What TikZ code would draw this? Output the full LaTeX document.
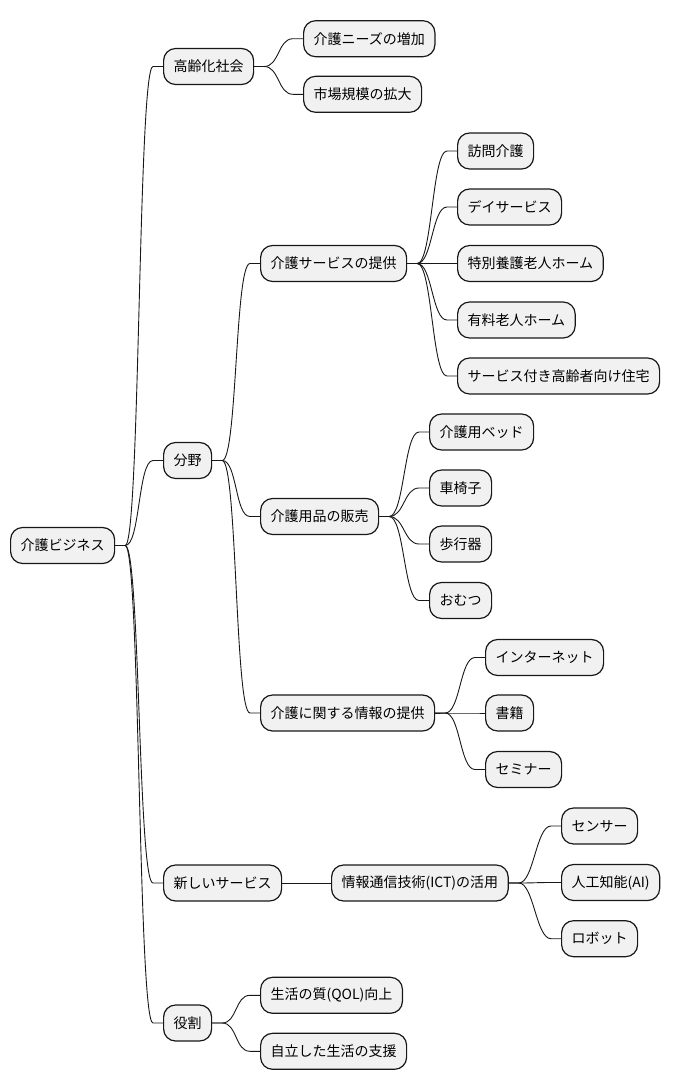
\documentclass[tikz,border=0pt]{standalone}
\usepackage{fontspec}
\setmainfont{Noto Sans CJK JP}
\usepackage{tikz}
\usetikzlibrary{positioning}
\definecolor{boxfill}{HTML}{F1F1F1}
\definecolor{boxline}{HTML}{181818}

\begin{document}
\begin{tikzpicture}[
    x=1pt, y=-1pt,
    box/.style={rectangle, rounded corners=12pt, draw=boxline, fill=boxfill,
                line width=1.2pt, minimum height=36pt, inner xsep=10pt,
                anchor=west, font=\fontsize{14pt}{16pt}\selectfont},
    link/.style={draw=boxline, line width=0.9pt,
                 to path={-- ++(10,0) .. controls +(15,0) and +(-15,0) .. ([xshift=-10pt]\tikztotarget) -- (\tikztotarget)}}
]
    \useasboundingbox (0,0) rectangle (673,1090);
    % Nodes
    \node[box] (root) at (10,545.5) {介護ビジネス};
    \node[box] (aging) at (163,66.5) {高齢化社会};
    \node[box] (needs) at (303,38.7) {介護ニーズの増加};
    \node[box] (market) at (303,94.3) {市場規模の拡大};
    \node[box] (field) at (163,460.5) {分野};
    \node[box] (service) at (260,263.5) {介護サービスの提供};
    \node[box] (visit) at (457,151) {訪問介護};
    \node[box] (day) at (457,207) {デイサービス};
    \node[box] (nursing) at (457,263.5) {特別養護老人ホーム};
    \node[box] (paid) at (457,320) {有料老人ホーム};
    \node[box] (housing) at (457,376) {サービス付き高齢者向け住宅};
    \node[box] (goods) at (260,516.5) {介護用品の販売};
    \node[box] (bed) at (429,432) {介護用ベッド};
    \node[box] (wheel) at (429,488) {車椅子};
    \node[box] (walker) at (429,544) {歩行器};
    \node[box] (diaper) at (429,600.5) {おむつ};
    \node[box] (info) at (260,713) {介護に関する情報の提供};
    \node[box] (net) at (485,657.5) {インターネット};
    \node[box] (book) at (485,713) {書籍};
    \node[box] (seminar) at (485,769.5) {セミナー};
    \node[box] (newsvc) at (163,883) {新しいサービス};
    \node[box] (ict) at (331,883) {情報通信技術(ICT)の活用};
    \node[box] (sensor) at (561,826) {センサー};
    \node[box] (ai) at (561,882.5) {人工知能(AI)};
    \node[box] (robot) at (561,938.7) {ロボット};
    \node[box] (role) at (163,1023) {役割};
    \node[box] (qol) at (260,995.3) {生活の質(QOL)向上};
    \node[box] (indep) at (260,1051.3) {自立した生活の支援};

    % Branches
    \draw[link] (root.east) to (aging.west);
    \draw[link] (root.east) to (field.west);
    \draw[link] (root.east) to (newsvc.west);
    \draw[link] (root.east) to (role.west);
    \draw[link] (aging.east) to (needs.west);
    \draw[link] (aging.east) to (market.west);
    \draw[link] (field.east) to (service.west);
    \draw[link] (field.east) to (goods.west);
    \draw[link] (field.east) to (info.west);
    \draw[link] (service.east) to (visit.west);
    \draw[link] (service.east) to (day.west);
    \draw[link] (service.east) to (nursing.west);
    \draw[link] (service.east) to (paid.west);
    \draw[link] (service.east) to (housing.west);
    \draw[link] (goods.east) to (bed.west);
    \draw[link] (goods.east) to (wheel.west);
    \draw[link] (goods.east) to (walker.west);
    \draw[link] (goods.east) to (diaper.west);
    \draw[link] (info.east) to (net.west);
    \draw[link] (info.east) to (book.west);
    \draw[link] (info.east) to (seminar.west);
    \draw[link] (newsvc.east) to (ict.west);
    \draw[link] (ict.east) to (sensor.west);
    \draw[link] (ict.east) to (ai.west);
    \draw[link] (ict.east) to (robot.west);
    \draw[link] (role.east) to (qol.west);
    \draw[link] (role.east) to (indep.west);
\end{tikzpicture}
\end{document}
